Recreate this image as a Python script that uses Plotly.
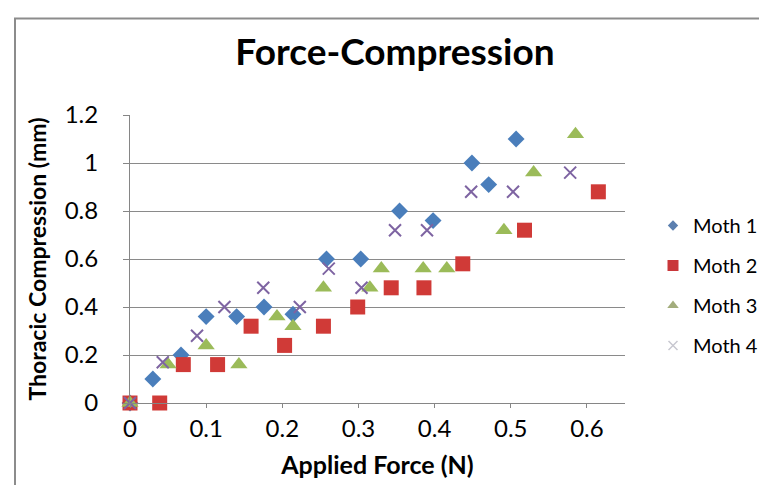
import plotly.graph_objects as go

series_names = ["Moth 1", "Moth 2", "Moth 3", "Moth 4"]

moth1_force = [0, 0.030, 0.067, 0.100, 0.140, 0.176, 0.214, 0.258, 0.303, 0.354, 0.398, 0.449, 0.471, 0.507]
moth1_comp = [0, 0.10, 0.20, 0.36, 0.36, 0.40, 0.37, 0.60, 0.60, 0.80, 0.76, 1.00, 0.91, 1.10]

moth2_force = [0, 0.039, 0.070, 0.115, 0.159, 0.203, 0.254, 0.299, 0.343, 0.386, 0.437, 0.518, 0.615]
moth2_comp = [0, 0, 0.16, 0.16, 0.32, 0.24, 0.32, 0.40, 0.48, 0.48, 0.58, 0.72, 0.88]

moth3_force = [0, 0.050, 0.100, 0.143, 0.193, 0.214, 0.254, 0.315, 0.330, 0.385, 0.416, 0.491, 0.530, 0.585]
moth3_comp = [0, 0.16, 0.24, 0.16, 0.36, 0.32, 0.48, 0.48, 0.56, 0.56, 0.56, 0.72, 0.96, 1.12]

moth4_force = [0, 0.043, 0.088, 0.124, 0.175, 0.223, 0.261, 0.304, 0.348, 0.390, 0.448, 0.503, 0.578]
moth4_comp = [0, 0.17, 0.28, 0.40, 0.48, 0.40, 0.56, 0.48, 0.72, 0.72, 0.88, 0.88, 0.96]

FONT = "Lato"

fig = go.Figure()
styles = [
    dict(symbol="diamond", size=13, color="#4A7EBB"),
    dict(symbol="square", size=15, color="#D03A37"),
    dict(symbol="triangle-up", size=15, color="#9BBB59"),
    dict(symbol="x-thin", size=12, color="#7E64A2", line=dict(width=2, color="#7E64A2")),
]
legend_styles = [
    dict(symbol="diamond", size=8, color="#5B7FAF"),
    dict(symbol="square", size=11, color="#C9373A"),
    dict(symbol="triangle-up", size=10, color="#A3AD7C"),
    dict(symbol="x-thin", size=9, color="#C8C8D0", line=dict(width=1.5, color="#C8C8D0")),
]
data = [(moth1_force, moth1_comp), (moth2_force, moth2_comp),
        (moth3_force, moth3_comp), (moth4_force, moth4_comp)]

for name, (xs, ys), st, lst in zip(series_names, data, styles, legend_styles):
    fig.add_trace(go.Scatter(
        x=xs, y=ys, mode="markers", name=name, legendgroup=name,
        marker=st, cliponaxis=False, showlegend=False,
    ))
    # legend entry with the small Excel-style legend symbol
    fig.add_trace(go.Scatter(
        x=[None], y=[None], mode="markers", name=name, legendgroup=name,
        marker=lst, showlegend=True, hoverinfo="skip",
    ))

fig.update_layout(
    width=767, height=485,
    margin=dict(l=122, r=150, t=107, b=90),
    paper_bgcolor="white", plot_bgcolor="white",
    font=dict(family=FONT, color="#000000"),
    title=dict(text="<b>Force-Compression</b>", font=dict(size=37, family=FONT),
               x=387/767, xref="container", xanchor="center",
               y=1-44/485, yref="container", yanchor="middle"),
    showlegend=True,
    legend=dict(x=645/767, xref="container", xanchor="left",
                y=1-198/485, yref="container", yanchor="top",
                font=dict(size=20, family=FONT), tracegroupgap=11,
                bgcolor="rgba(0,0,0,0)"),
    xaxis=dict(range=[0, 0.65], dtick=0.1, tick0=0, showgrid=False,
               showline=True, linecolor="#868686", linewidth=1,
               ticks="outside", ticklen=4, tickcolor="#868686",
               tickfont=dict(size=24), ticklabelstandoff=0, zeroline=False,
               title=dict(text="<b>Applied Force (N)</b>", font=dict(size=25), standoff=15)),
    yaxis=dict(range=[0, 1.2], dtick=0.2, tick0=0, showgrid=True, gridcolor="#8A8A8A",
               gridwidth=1, showline=True, linecolor="#868686", linewidth=1,
               ticks="outside", ticklen=6, tickcolor="#868686",
               tickfont=dict(size=24), ticklabelstandoff=20, zeroline=False,
               title=dict(text="<b>Thoracic Compression (mm)</b>", font=dict(size=23), standoff=11)),
    shapes=[dict(type="rect", xref="paper", yref="paper",
                 x0=(7-122)/495, x1=(780-122)/495, y0=(395-500)/288, y1=(395-10.5)/288,
                 line=dict(color="#8C8C8C", width=2), layer="below")],
)

fig.write_html("out.html")
